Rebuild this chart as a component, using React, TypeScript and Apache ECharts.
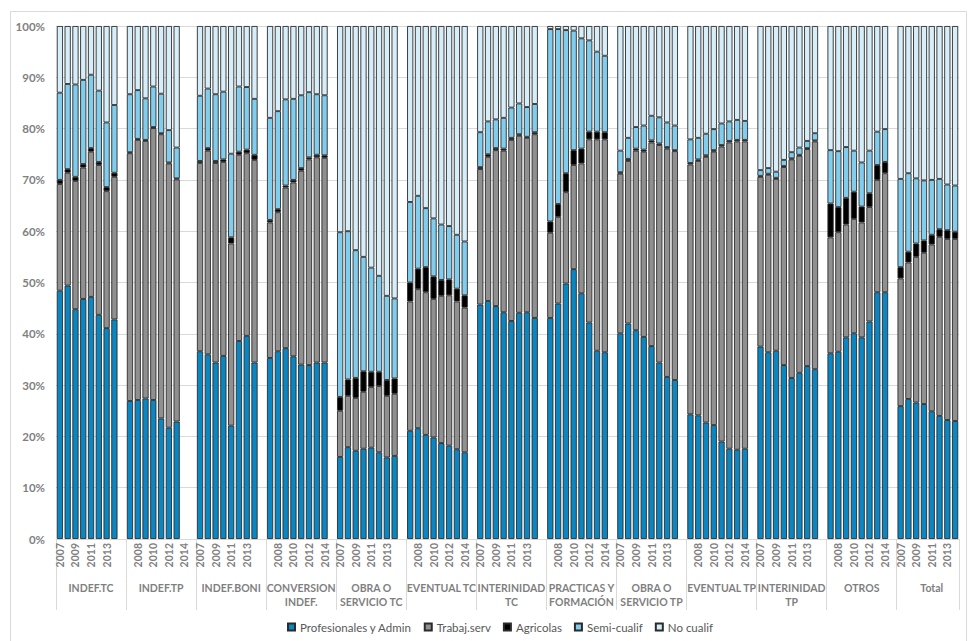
import React, { useEffect, useRef } from "react";
import * as echarts from "echarts";

const groups = [
  "INDEF.TC",
  "INDEF.TP",
  "INDEF.BONI",
  "CONVERSION\nINDEF.",
  "OBRA O\nSERVICIO TC",
  "EVENTUAL TC",
  "INTERINIDAD\nTC",
  "PRACTICAS Y\nFORMACIÓN",
  "OBRA O\nSERVICIO TP",
  "EVENTUAL TP",
  "INTERINIDAD\nTP",
  "OTROS",
  "Total",
];
const years = ["2007", "2008", "2009", "2010", "2011", "2012", "2013", "2014"];
const yTicks = [0, 10, 20, 30, 40, 50, 60, 70, 80, 90, 100];

const profesionales = [
  [48.4, 49.4, 44.8, 46.8, 47.2, 43.7, 41.1, 42.8],
  [26.9, 27.1, 27.4, 27.1, 23.5, 21.7, 22.9, null],
  [36.6, 36.0, 34.4, 35.7, 22.1, 38.6, 39.6, 34.4],
  [35.3, 36.6, 37.2, 35.6, 34.0, 33.9, 34.4, 34.4],
  [16.0, 17.9, 17.2, 17.6, 17.8, 16.9, 15.9, 16.2],
  [21.1, 21.6, 20.3, 19.8, 18.7, 18.2, 17.5, 16.9],
  [45.7, 46.4, 45.4, 44.2, 42.5, 44.1, 44.2, 43.1],
  [43.1, 45.9, 49.8, 52.6, 47.9, 42.2, 36.7, 36.4],
  [40.1, 42.0, 40.7, 39.4, 37.6, 34.4, 31.6, 31.0],
  [24.3, 24.1, 22.7, 22.2, 19.0, 17.6, 17.4, 17.6],
  [37.5, 36.4, 36.7, 33.9, 31.4, 32.4, 33.7, 33.1],
  [36.2, 36.5, 39.3, 40.1, 39.3, 42.4, 48.1, 48.1],
  [25.9, 27.3, 26.6, 26.3, 24.9, 24.0, 23.2, 23.0],
];
const trabajServ = [
  [20.8, 22.0, 25.0, 25.6, 28.3, 29.2, 26.7, 27.8],
  [48.3, 50.7, 50.2, 53.0, 55.4, 51.5, 47.2, null],
  [36.7, 39.7, 38.9, 37.8, 35.5, 36.3, 35.6, 39.5],
  [26.4, 27.1, 31.3, 33.9, 37.8, 40.1, 40.0, 39.9],
  [9.0, 10.0, 10.3, 11.1, 11.8, 12.9, 12.0, 12.1],
  [25.2, 27.1, 27.8, 27.0, 28.7, 29.3, 28.8, 28.2],
  [26.4, 28.1, 30.4, 31.5, 35.3, 34.5, 34.0, 35.8],
  [16.6, 16.9, 17.8, 20.3, 25.3, 35.7, 41.2, 41.5],
  [31.1, 31.7, 35.0, 36.1, 39.7, 42.4, 44.5, 44.6],
  [48.7, 49.6, 51.8, 53.3, 57.5, 59.7, 60.1, 59.9],
  [33.1, 34.6, 33.5, 38.6, 42.6, 42.3, 42.3, 44.4],
  [22.6, 23.3, 22.0, 22.3, 22.4, 22.3, 21.9, 23.2],
  [24.9, 26.6, 28.4, 29.5, 32.5, 34.9, 35.3, 35.5],
];
const agricolas = [
  [0.8, 0.7, 0.8, 0.7, 0.7, 0.6, 0.8, 0.8],
  [0.2, 0.2, 0.2, 0.2, 0.2, 0.2, 0.2, null],
  [0.4, 0.5, 0.4, 0.5, 1.2, 0.6, 0.7, 1.0],
  [0.5, 0.6, 0.4, 0.5, 0.5, 0.4, 0.5, 0.5],
  [2.7, 3.2, 3.9, 4.0, 3.0, 2.8, 3.1, 3.0],
  [3.7, 4.0, 4.9, 4.4, 3.1, 3.1, 2.5, 2.4],
  [0.4, 0.5, 0.4, 0.4, 0.4, 0.3, 0.2, 0.4],
  [2.2, 2.5, 3.7, 2.9, 2.9, 1.5, 1.5, 1.4],
  [0.3, 0.4, 0.4, 0.4, 0.4, 0.3, 0.3, 0.2],
  [0.3, 0.3, 0.3, 0.3, 0.3, 0.3, 0.3, 0.3],
  [0.2, 0.2, 0.2, 0.2, 0.2, 0.2, 0.2, 0.2],
  [6.6, 4.9, 5.2, 5.3, 3.1, 2.7, 2.9, 2.2],
  [2.2, 2.1, 2.6, 2.4, 1.9, 1.5, 1.7, 1.4],
];
const semiCualif = [
  [17.0, 16.6, 18.0, 16.4, 14.3, 13.9, 12.6, 13.2],
  [11.3, 9.5, 8.1, 7.9, 7.7, 6.3, 6.0, null],
  [12.7, 11.6, 13.0, 13.2, 16.3, 12.7, 12.2, 10.9],
  [19.9, 19.1, 16.8, 15.8, 14.2, 12.7, 11.8, 11.7],
  [32.1, 28.9, 24.9, 22.3, 20.3, 18.7, 16.4, 15.6],
  [15.7, 14.2, 11.5, 11.3, 10.8, 10.4, 10.5, 10.5],
  [6.8, 6.4, 5.6, 6.0, 5.9, 6.0, 5.8, 5.5],
  [37.5, 34.1, 27.9, 23.3, 21.5, 17.8, 15.6, 14.9],
  [4.2, 4.1, 4.2, 4.7, 4.8, 5.1, 4.8, 4.8],
  [4.6, 4.2, 4.2, 4.1, 4.2, 3.8, 3.9, 3.7],
  [1.1, 1.1, 1.2, 1.2, 1.2, 1.4, 1.4, 1.4],
  [10.4, 10.9, 9.9, 8.0, 8.6, 8.3, 6.5, 6.4],
  [17.2, 15.3, 12.7, 11.7, 10.7, 9.8, 8.9, 9.0],
];
const noCualif = [
  [13.0, 11.3, 11.4, 10.5, 9.5, 12.6, 18.8, 15.4],
  [13.3, 12.5, 14.1, 11.8, 13.2, 20.3, 23.7, null],
  [13.6, 12.2, 13.3, 12.8, 24.9, 11.8, 11.9, 14.2],
  [17.9, 16.6, 14.3, 14.2, 13.5, 12.9, 13.3, 13.5],
  [40.2, 40.0, 43.7, 45.0, 47.1, 48.7, 52.6, 53.1],
  [34.3, 33.1, 35.5, 37.5, 38.7, 39.0, 40.7, 42.0],
  [20.7, 18.6, 18.2, 17.9, 15.9, 15.1, 15.8, 15.2],
  [0.6, 0.6, 0.8, 0.9, 2.4, 2.8, 5.0, 5.8],
  [24.3, 21.8, 19.7, 19.4, 17.5, 17.8, 18.8, 19.4],
  [22.1, 21.8, 21.0, 20.1, 19.0, 18.6, 18.3, 18.5],
  [28.1, 27.7, 28.4, 26.1, 24.6, 23.7, 22.4, 20.9],
  [24.2, 24.4, 23.6, 24.3, 26.6, 24.3, 20.6, 20.1],
  [29.8, 28.7, 29.7, 30.1, 30.0, 29.8, 30.9, 31.1],
];

const seriesNames = ["Profesionales y Admin", "Trabaj.serv", "Agricolas", "Semi-cualif", "No cualif"];
const seriesColors = ["#0A86C2", "#909090", "#000000", "#80CDEE", "#D6EEF9"];

export default function App() {
  const ref = useRef<HTMLDivElement>(null);

  useEffect(() => {
    if (!ref.current) return;
    const chart = echarts.init(ref.current, null, { renderer: "svg" });

    const yearSlots: string[] = [];
    const groupSlots: string[] = [];
    groups.forEach((g, gi) => {
      years.forEach((y, yi) => {
        yearSlots.push(y);
        groupSlots.push(yi === 4 ? g : "");
      });
      if (gi < groups.length - 1) {
        yearSlots.push("");
        groupSlots.push("");
      }
    });
    const flat = (arr: (number | null)[][]) => {
      const out: (number | null)[] = [];
      arr.forEach((row, gi) => {
        row.forEach((v) => out.push(v));
        if (gi < arr.length - 1) out.push(null);
      });
      return out;
    };
    const allData = [profesionales, trabajServ, agricolas, semiCualif, noCualif];

    const labelFont = "Lato, 'Open Sans', sans-serif";

    chart.setOption({
      animation: false,
      backgroundColor: "#ffffff",
      textStyle: { fontFamily: labelFont },
      graphic: [
        {
          type: "rect",
          shape: { x: 10.5, y: 11.5, width: 956, height: 640 },
          style: { fill: "none", stroke: "#d9d9d9", lineWidth: 1 },
          silent: true,
        },
      ],
      grid: { left: 56, right: 10, top: 26, bottom: 102, containLabel: false },
      legend: {
        data: seriesNames,
        left: 282,
        top: 616,
        itemWidth: 7,
        itemHeight: 7,
        itemGap: 12,
        icon: "rect",
        textStyle: { color: "#595959", fontSize: 11.5, fontFamily: labelFont },
      },
      xAxis: [
        {
          type: "category",
          data: yearSlots,
          position: "bottom",
          axisLine: { show: true, lineStyle: { color: "#d9d9d9" } },
          axisTick: { show: false },
          axisLabel: {
            interval: 1,
            rotate: 90,
            margin: 4,
            color: "#7f7f7f",
            fontSize: 10.5,
            fontWeight: "bold",
            fontFamily: labelFont,
          },
          splitLine: { show: false },
        },
        {
          type: "category",
          data: groupSlots,
          position: "bottom",
          axisLine: { show: false },
          axisTick: {
            show: true,
            interval: (i: number) => i % 9 === 0,
            length: 71,
            lineStyle: { color: "#d9d9d9" },
          },
          axisLabel: {
            interval: 0,
            margin: 42,
            color: "#7f7f7f",
            fontSize: 10.5,
            fontWeight: "bold",
            lineHeight: 14,
            fontFamily: labelFont,
          },
          splitLine: { show: false },
        },
      ],
      yAxis: {
        type: "value",
        min: yTicks[0],
        max: yTicks[yTicks.length - 1],
        interval: 10,
        axisLine: { show: false },
        axisTick: { show: false },
        axisLabel: {
          formatter: "{value}%",
          margin: 11,
          color: "#7f7f7f",
          fontSize: 11.5,
          fontWeight: "bold",
          fontFamily: labelFont,
        },
        splitLine: { lineStyle: { color: "#d9d9d9" } },
      },
      series: seriesNames.map((name, si) => ({
        name,
        type: "bar",
        stack: "total",
        xAxisIndex: 0,
        barCategoryGap: "20%",
        itemStyle: { color: seriesColors[si], borderColor: "#2b2b2b", borderWidth: 0.9 },
        emphasis: { disabled: true },
        data: flat(allData[si]),
      })),
    });

    return () => chart.dispose();
  }, []);

  return (
    <div
      ref={ref}
      style={{ position: "fixed", left: 0, top: 0, width: 969, height: 641, background: "#fff" }}
    />
  );
}
